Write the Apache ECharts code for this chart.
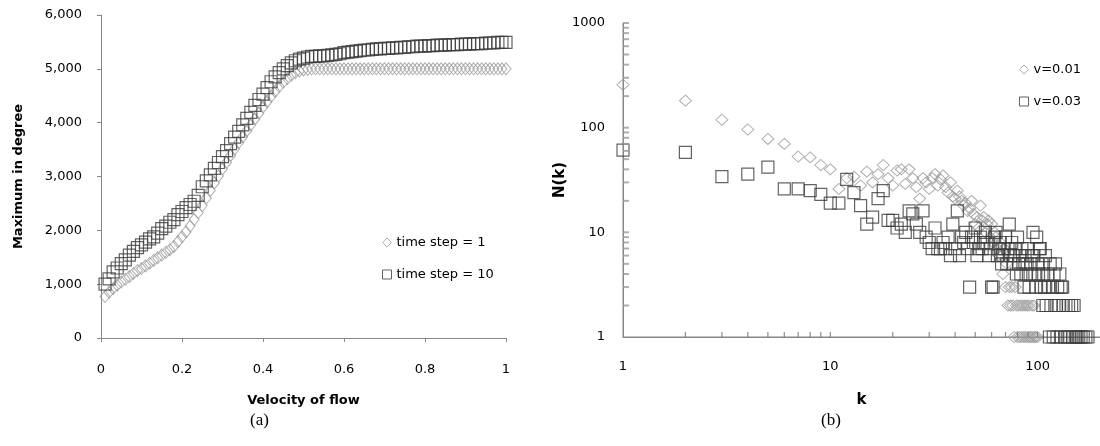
<!DOCTYPE html>
<html>
<head>
<meta charset="utf-8">
<script src="https://cdn.jsdelivr.net/npm/echarts@6/dist/echarts.min.js"></script>
<style>
  html, body { margin: 0; background: #fff; }
  #main { width: 1100px; height: 446px; }
</style>
</head>
<body>
<div id="main"></div>
<script>
// (a) maximum degree vs velocity of flow
var velocity = [0.01,0.02,0.03,0.04,0.05,0.06,0.07,0.08,0.09,0.10,
  0.11,0.12,0.13,0.14,0.15,0.16,0.17,0.18,0.19,0.20,
  0.21,0.22,0.23,0.24,0.25,0.26,0.27,0.28,0.29,0.30,
  0.31,0.32,0.33,0.34,0.35,0.36,0.37,0.38,0.39,0.40,
  0.41,0.42,0.43,0.44,0.45,0.46,0.47,0.48,0.49,0.50,
  0.51,0.52,0.53,0.54,0.55,0.56,0.57,0.58,0.59,0.60,
  0.61,0.62,0.63,0.64,0.65,0.66,0.67,0.68,0.69,0.70,
  0.71,0.72,0.73,0.74,0.75,0.76,0.77,0.78,0.79,0.80,
  0.81,0.82,0.83,0.84,0.85,0.86,0.87,0.88,0.89,0.90,
  0.91,0.92,0.93,0.94,0.95,0.96,0.97,0.98,0.99,1.00];
var degreeStep1 = [770,850,920,980,1040,1090,1140,1200,1250,1290,
  1340,1390,1440,1490,1540,1590,1640,1700,1790,1880,
  1970,2080,2200,2330,2460,2600,2740,2880,3010,3140,
  3260,3390,3510,3630,3740,3850,3960,4070,4180,4290,
  4390,4490,4580,4670,4750,4820,4880,4930,4960,4980,
  4990,5000,5000,5000,5000,5000,5000,5000,5000,5000,
  5000,5000,5000,5000,5000,5000,5000,5000,5000,5000,
  5000,5000,5000,5000,5000,5000,5000,5000,5000,5000,
  5000,5000,5000,5000,5000,5000,5000,5000,5000,5000,
  5000,5000,5000,5000,5000,5000,5000,5000,5000,5000];
var degreeStep10 = [1000,1100,1230,1300,1380,1450,1540,1610,1680,1730,
  1780,1840,1880,1950,2030,2080,2150,2200,2290,2350,
  2420,2480,2540,2650,2810,2920,3030,3150,3260,3370,
  3480,3610,3730,3840,3960,4080,4190,4320,4430,4530,
  4650,4760,4850,4930,5000,5060,5110,5150,5180,5200,
  5220,5230,5230,5240,5240,5250,5260,5270,5280,5300,
  5310,5320,5330,5340,5350,5350,5360,5370,5370,5380,
  5380,5390,5390,5400,5400,5410,5410,5420,5420,5420,
  5430,5430,5440,5440,5440,5450,5450,5450,5460,5460,
  5460,5470,5470,5470,5480,5480,5480,5490,5490,5490];

// (b) degree distribution N(k)
var kV001 = [1,2,3,4,5,6,7,8,9,10,11,12,13,14,15,16,17,18,19,20,
  21,22,23,24,25,26,27,28,29,30,31,32,33,34,35,36,37,38,39,40,
  41,42,43,44,45,46,47,48,49,50,51,52,53,54,55,56,57,58,59,60,
  61,62,63,64,65,66,67,68,69,70,71,72,73,74,75,76,77,78,79,80,
  81,82,83,84,85,86,87,88,89,90,91,92,93,94,95,96,97,98,100];
var nV001 = [257,181,119,96,78,70,53,52,44,40,26,33,34,28,38,30,36,44,33,28,
  39,40,29,40,33,27,21,33,30,26,33,36,28,32,35,27,24,30,22,21,
  25,22,20,18,19,16,17,20,15,12,14,11,18,13,14,10,12,13,9,12,
  8,10,9,7,6,8,6,4,7,3,5,2,3,2,3,2,1,3,2,1,
  2,1,2,1,2,1,2,1,2,1,2,1,1,2,1,2,1,1,1];
var kV003 = [1,2,3,4,5,6,7,8,9,10,11,12,13,14,15,16,17,18,19,20,
  21,22,23,24,25,26,27,28,29,30,31,32,33,34,35,36,37,38,39,40,
  41,42,43,44,45,46,47,48,49,50,51,52,53,54,55,56,57,58,59,60,
  61,62,63,64,65,66,67,68,69,70,71,72,73,74,75,76,77,78,79,80,
  81,82,83,84,85,86,87,88,89,90,91,92,93,94,95,96,97,98,99,100,
  101,102,103,104,105,106,107,108,109,110,112,113,114,115,116,118,119,120,122,123,
  124,125,127,128,129,130,132,133,135,137,139,141,143,146,148,150,152,155,158,162,
  166,171,175];
var nV003 = [61,58,34,36,42,26,26,25,23,19,19,32,24,18,12,14,21,25,13,13,
  11,12,10,16,15,12,10,16,9,8,7,11,7,7,8,7,9,6,12,7,
  16,6,9,8,10,7,3,9,8,11,6,7,9,7,8,10,8,6,7,3,
  3,9,10,6,7,8,5,6,7,9,5,7,12,6,8,5,6,7,4,9,
  5,6,4,7,5,3,6,4,5,7,3,4,5,6,10,6,4,3,9,5,
  4,7,7,3,5,2,4,3,6,2,4,3,1,5,2,3,1,4,5,2,
  1,3,2,4,1,3,3,2,1,2,1,2,1,2,1,2,1,1,1,1,
  1,1,1];

// tick marks of the log axes (1-2-...-9 per decade)
var xTicksLog = [2,3,4,5,6,7,8,9,10,20,30,40,50,60,70,80,90,100];
var yTicksLog = [2,3,4,5,6,7,8,9,10,20,30,40,50,60,70,80,90,100,200,300,400,500,600,700,800,900,1000];
var kMin = 1, kMax = 200;
var nMin = 1, nMax = 1000;

var myChart = echarts.init(document.getElementById('main'));

function pairs(xs, ys) {
  var out = [];
  for (var i = 0; i < xs.length; i++) out.push([xs[i], ys[i]]);
  return out;
}
function lg(v) { return Math.log(v) / Math.LN10; }
function decadeLabel(v) {
  var l = lg(v);
  return Math.abs(l - Math.round(l)) < 1e-6 ? String(Math.round(v)) : '';
}

var axisGray = '#868686';
var tickGray = '#707070';
var labelFont = { fontFamily: 'DejaVu Sans', fontSize: 13, color: '#000' };
var titleFont = { fontFamily: 'DejaVu Sans', fontSize: 13, fontWeight: 'bold', color: '#000' };
var lightGray = '#9a9a9a';
var darkGray = '#3c3c3c';

var option = {
  animation: false,
  backgroundColor: '#fff',
  grid: [
    { left: 101, top: 15, width: 405, height: 323 },
    { left: 623, top: 23, width: 477, height: 314 }
  ],
  xAxis: [
    {
      gridIndex: 0, type: 'value', min: 0, max: 1, interval: 0.2,
      name: 'Velocity of flow', nameLocation: 'middle', nameGap: 56,
      nameTextStyle: titleFont,
      axisLine: { lineStyle: { color: axisGray } },
      axisTick: { length: 4, lineStyle: { color: axisGray } },
      axisLabel: Object.assign({ margin: 25, formatter: function (v) { return String(v); } }, labelFont),
      splitLine: { show: false }
    },
    {
      gridIndex: 1, type: 'log', logBase: 10, min: kMin, max: kMax,
      name: 'k', nameLocation: 'middle', nameGap: 56,
      nameTextStyle: Object.assign({}, titleFont, { fontSize: 15 }),
      axisLine: { show: true, onZero: false, lineStyle: { color: axisGray } },
      axisTick: { show: false },
      axisLabel: Object.assign({ margin: 23, showMaxLabel: false, formatter: decadeLabel }, labelFont),
      splitLine: { show: false }
    }
  ],
  yAxis: [
    {
      gridIndex: 0, type: 'value', min: 0, max: 6000, interval: 1000,
      name: 'Maximum in degree', nameLocation: 'middle', nameGap: 76,
      nameTextStyle: titleFont,
      axisLine: { show: true, lineStyle: { color: axisGray } },
      axisTick: { show: true, length: 4, lineStyle: { color: axisGray } },
      axisLabel: Object.assign({ margin: 19, formatter: function (v) { return v.toLocaleString('en-US'); } }, labelFont),
      splitLine: { show: false }
    },
    {
      gridIndex: 1, type: 'log', logBase: 10, min: nMin, max: nMax,
      name: 'N(k)', nameLocation: 'middle', nameGap: 48,
      nameTextStyle: Object.assign({}, titleFont, { fontSize: 15 }),
      axisLine: { show: true, onZero: false, lineStyle: { color: axisGray } },
      axisTick: { show: false },
      axisLabel: Object.assign({ margin: 18, formatter: decadeLabel }, labelFont),
      splitLine: { show: false }
    }
  ],
  legend: [
    {
      orient: 'vertical', left: 377, top: 231, itemGap: 19,
      itemWidth: 9, itemHeight: 9, textStyle: labelFont,
      data: [
        { name: 'time step = 1', icon: 'diamond', itemStyle: { color: 'transparent', borderColor: lightGray, borderWidth: 1 } },
        { name: 'time step = 10', icon: 'rect', itemStyle: { color: 'transparent', borderColor: darkGray, borderWidth: 1 } }
      ]
    },
    {
      orient: 'vertical', left: 1014, top: 58, itemGap: 19,
      itemWidth: 9, itemHeight: 9, textStyle: labelFont,
      data: [
        { name: 'v=0.01', icon: 'diamond', itemStyle: { color: 'transparent', borderColor: lightGray, borderWidth: 1 } },
        { name: 'v=0.03', icon: 'rect', itemStyle: { color: 'transparent', borderColor: darkGray, borderWidth: 1 } }
      ]
    }
  ],
  graphic: [
    { type: 'text', left: 250, top: 412, style: { text: '(a)', font: '17px "Liberation Serif"', fill: '#000' } },
    { type: 'text', left: 821, top: 412, style: { text: '(b)', font: '17px "Liberation Serif"', fill: '#000' } }
  ],
  series: [
    {
      name: 'time step = 1', type: 'scatter', xAxisIndex: 0, yAxisIndex: 0,
      symbol: 'diamond', symbolSize: [10, 12],
      itemStyle: { color: 'transparent', borderColor: lightGray, borderWidth: 1 },
      data: pairs(velocity, degreeStep1)
    },
    {
      name: 'time step = 10', type: 'scatter', xAxisIndex: 0, yAxisIndex: 0,
      symbol: 'rect', symbolSize: 12,
      itemStyle: { color: 'transparent', borderColor: darkGray, borderWidth: 1.2 },
      data: pairs(velocity, degreeStep10)
    },
    // frame of panel (b): bottom and left edges along the log scales
    {
      name: 'kAxisLine', type: 'line', xAxisIndex: 1, yAxisIndex: 1, silent: true, clip: false, z: 1,
      symbol: 'none', lineStyle: { color: axisGray, width: 1 },
      data: [[kMin, nMin], [kMax, nMin]]
    },
    {
      name: 'nAxisLine', type: 'line', xAxisIndex: 1, yAxisIndex: 1, silent: true, clip: false, z: 1,
      symbol: 'none', lineStyle: { color: axisGray, width: 1 },
      data: [[kMin, nMin], [kMin, nMax]]
    },
    {
      name: 'v=0.01', type: 'scatter', xAxisIndex: 1, yAxisIndex: 1,
      symbol: 'diamond', symbolSize: [12, 11],
      itemStyle: { color: 'transparent', borderColor: lightGray, borderWidth: 1 },
      data: pairs(kV001, nV001)
    },
    {
      name: 'v=0.03', type: 'scatter', xAxisIndex: 1, yAxisIndex: 1,
      symbol: 'rect', symbolSize: 12,
      itemStyle: { color: 'transparent', borderColor: darkGray, borderWidth: 1.2 },
      data: pairs(kV003, nV003)
    },
    // log-axis tick marks, placed on the axes through the log scales
    {
      name: 'xticks', type: 'scatter', xAxisIndex: 1, yAxisIndex: 1, silent: true, clip: false, z: 5,
      symbol: 'rect', symbolSize: [1.2, 5], symbolOffset: [0, -2.5],
      itemStyle: { color: tickGray },
      data: xTicksLog.map(function (k) { return [k, nMin]; })
    },
    {
      name: 'yticks', type: 'scatter', xAxisIndex: 1, yAxisIndex: 1, silent: true, clip: false, z: 5,
      symbol: 'rect', symbolSize: [6, 2], symbolOffset: [3, 0],
      itemStyle: { color: '#9a9a9a' },
      data: yTicksLog.map(function (n) { return [kMin, n]; })
    }
  ]
};
myChart.setOption(option);
</script>
</body>
</html>
